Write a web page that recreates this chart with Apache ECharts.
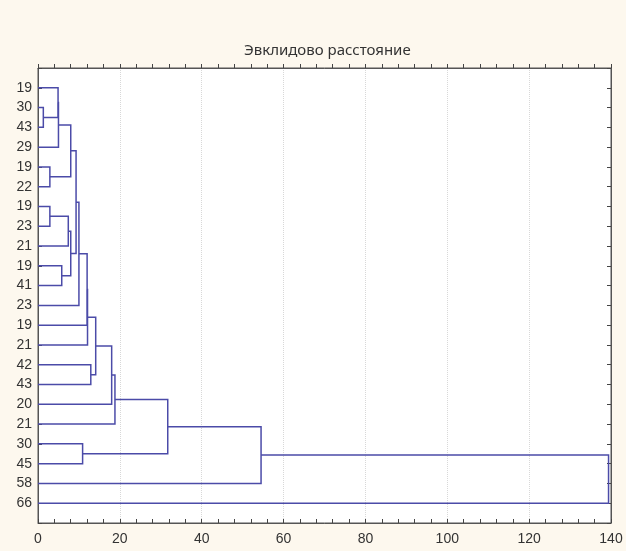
<!DOCTYPE html>
<html>
<head>
<meta charset="utf-8">
<script src="https://cdn.jsdelivr.net/npm/echarts@6/dist/echarts.min.js"></script>
<style>
  html, body { margin: 0; padding: 0; background: #fdf8ee; }
  #chart { width: 626px; height: 551px; }
</style>
</head>
<body>
<div id="chart"></div>
<script>
// Leaf labels, top to bottom
const leafLabels = ['19','30','43','29','19','22','19','23','21','19','41','23','19','21','42','43','20','21','30','45','58','66'];
// Linkage: ids below leafLabels.length are leaves, id n + k is the cluster made by merge k
const mergeLeft   = [1, 0, 23, 4, 24, 6, 27, 9, 28, 26, 31, 32, 33, 14, 34, 36, 37, 18, 38, 40, 41];
const mergeRight  = [2, 22, 3, 5, 25, 7, 8, 10, 29, 30, 11, 12, 13, 15, 35, 16, 17, 19, 39, 20, 21];
const mergeHeight = [1.3, 4.9, 5.0, 2.9, 8.0, 2.9, 7.4, 5.8, 8.0, 9.3, 10.0, 12.0, 12.1, 12.9, 14.1, 18.0, 18.8, 10.9, 31.7, 54.5, 139.4];
const xTicks = [0, 20, 40, 60, 80, 100, 120, 140];

const n = leafLabels.length;
// node positions: [distance, row]
const nodes = leafLabels.map((_, i) => [0, i]);
const links = [];
for (let k = 0; k < mergeHeight.length; k++) {
  const a = nodes[mergeLeft[k]], b = nodes[mergeRight[k]], h = mergeHeight[k];
  links.push({ coords: [[a[0], a[1]], [h, a[1]], [h, b[1]], [b[0], b[1]]] });
  nodes.push([h, (a[1] + b[1]) / 2]);
}

const labelFont = { color: '#333', fontSize: 14, fontFamily: 'Liberation Sans' };
const frameColor = '#555555';
const frameLine = { show: true, onZero: false, lineStyle: { color: frameColor } };
const tickStyle = { color: '#444' };
const bottomTick = { show: true, inside: true, length: 4, lineStyle: tickStyle };
const bottomMinor = { show: true, splitNumber: 5, length: 4, lineStyle: tickStyle };
// the top axis draws its ticks downward into the plot
const topTick = { show: true, inside: false, length: 4, lineStyle: tickStyle };
const topMinor = { show: true, splitNumber: 5, length: 4, lineStyle: tickStyle };
const sideTick = { show: true, inside: true, length: 4, lineStyle: tickStyle };

const chart = echarts.init(document.getElementById('chart'), null, { renderer: 'canvas' });
chart.setOption({
  backgroundColor: '#fdf8ee',
  animation: false,
  title: {
    text: 'Эвклидово расстояние',
    left: 239,
    top: 38,
    textStyle: { color: '#333', fontSize: 15, fontWeight: 'normal', fontFamily: 'Noto Sans' }
  },
  grid: {
    left: 38, right: 15, top: 68, bottom: 28,
    show: true, backgroundColor: '#ffffff', borderColor: frameColor, borderWidth: 1
  },
  xAxis: [
    {
      type: 'value', position: 'bottom', min: xTicks[0], max: xTicks[xTicks.length - 1], interval: 20,
      axisLine: frameLine, axisTick: bottomTick, minorTick: bottomMinor,
      axisLabel: Object.assign({ margin: 9 }, labelFont),
      splitLine: { show: true, lineStyle: { color: '#d8d8d8', type: 'dotted' } }
    },
    {
      type: 'value', position: 'top', min: xTicks[0], max: xTicks[xTicks.length - 1], interval: 20,
      axisLine: frameLine, axisTick: topTick, minorTick: topMinor,
      axisLabel: { show: false },
      splitLine: { show: false }
    }
  ],
  yAxis: [
    {
      type: 'value', position: 'left', inverse: true, min: -1, max: n, interval: 1,
      axisLine: frameLine, axisTick: sideTick,
      axisLabel: Object.assign({
        margin: 6,
        formatter: v => (v >= 0 && v < n ? leafLabels[v] : '')
      }, labelFont),
      splitLine: { show: false }
    },
    {
      type: 'value', position: 'right', inverse: true, min: -1, max: n, interval: 1,
      axisLine: frameLine, axisTick: sideTick,
      axisLabel: { show: false },
      splitLine: { show: false }
    }
  ],
  series: [{
    type: 'lines',
    coordinateSystem: 'cartesian2d',
    xAxisIndex: 0, yAxisIndex: 0,
    polyline: true,
    silent: true,
    lineStyle: { color: '#4b4ba8', width: 1.5, opacity: 1 },
    data: links
  }]
});
</script>
</body>
</html>
